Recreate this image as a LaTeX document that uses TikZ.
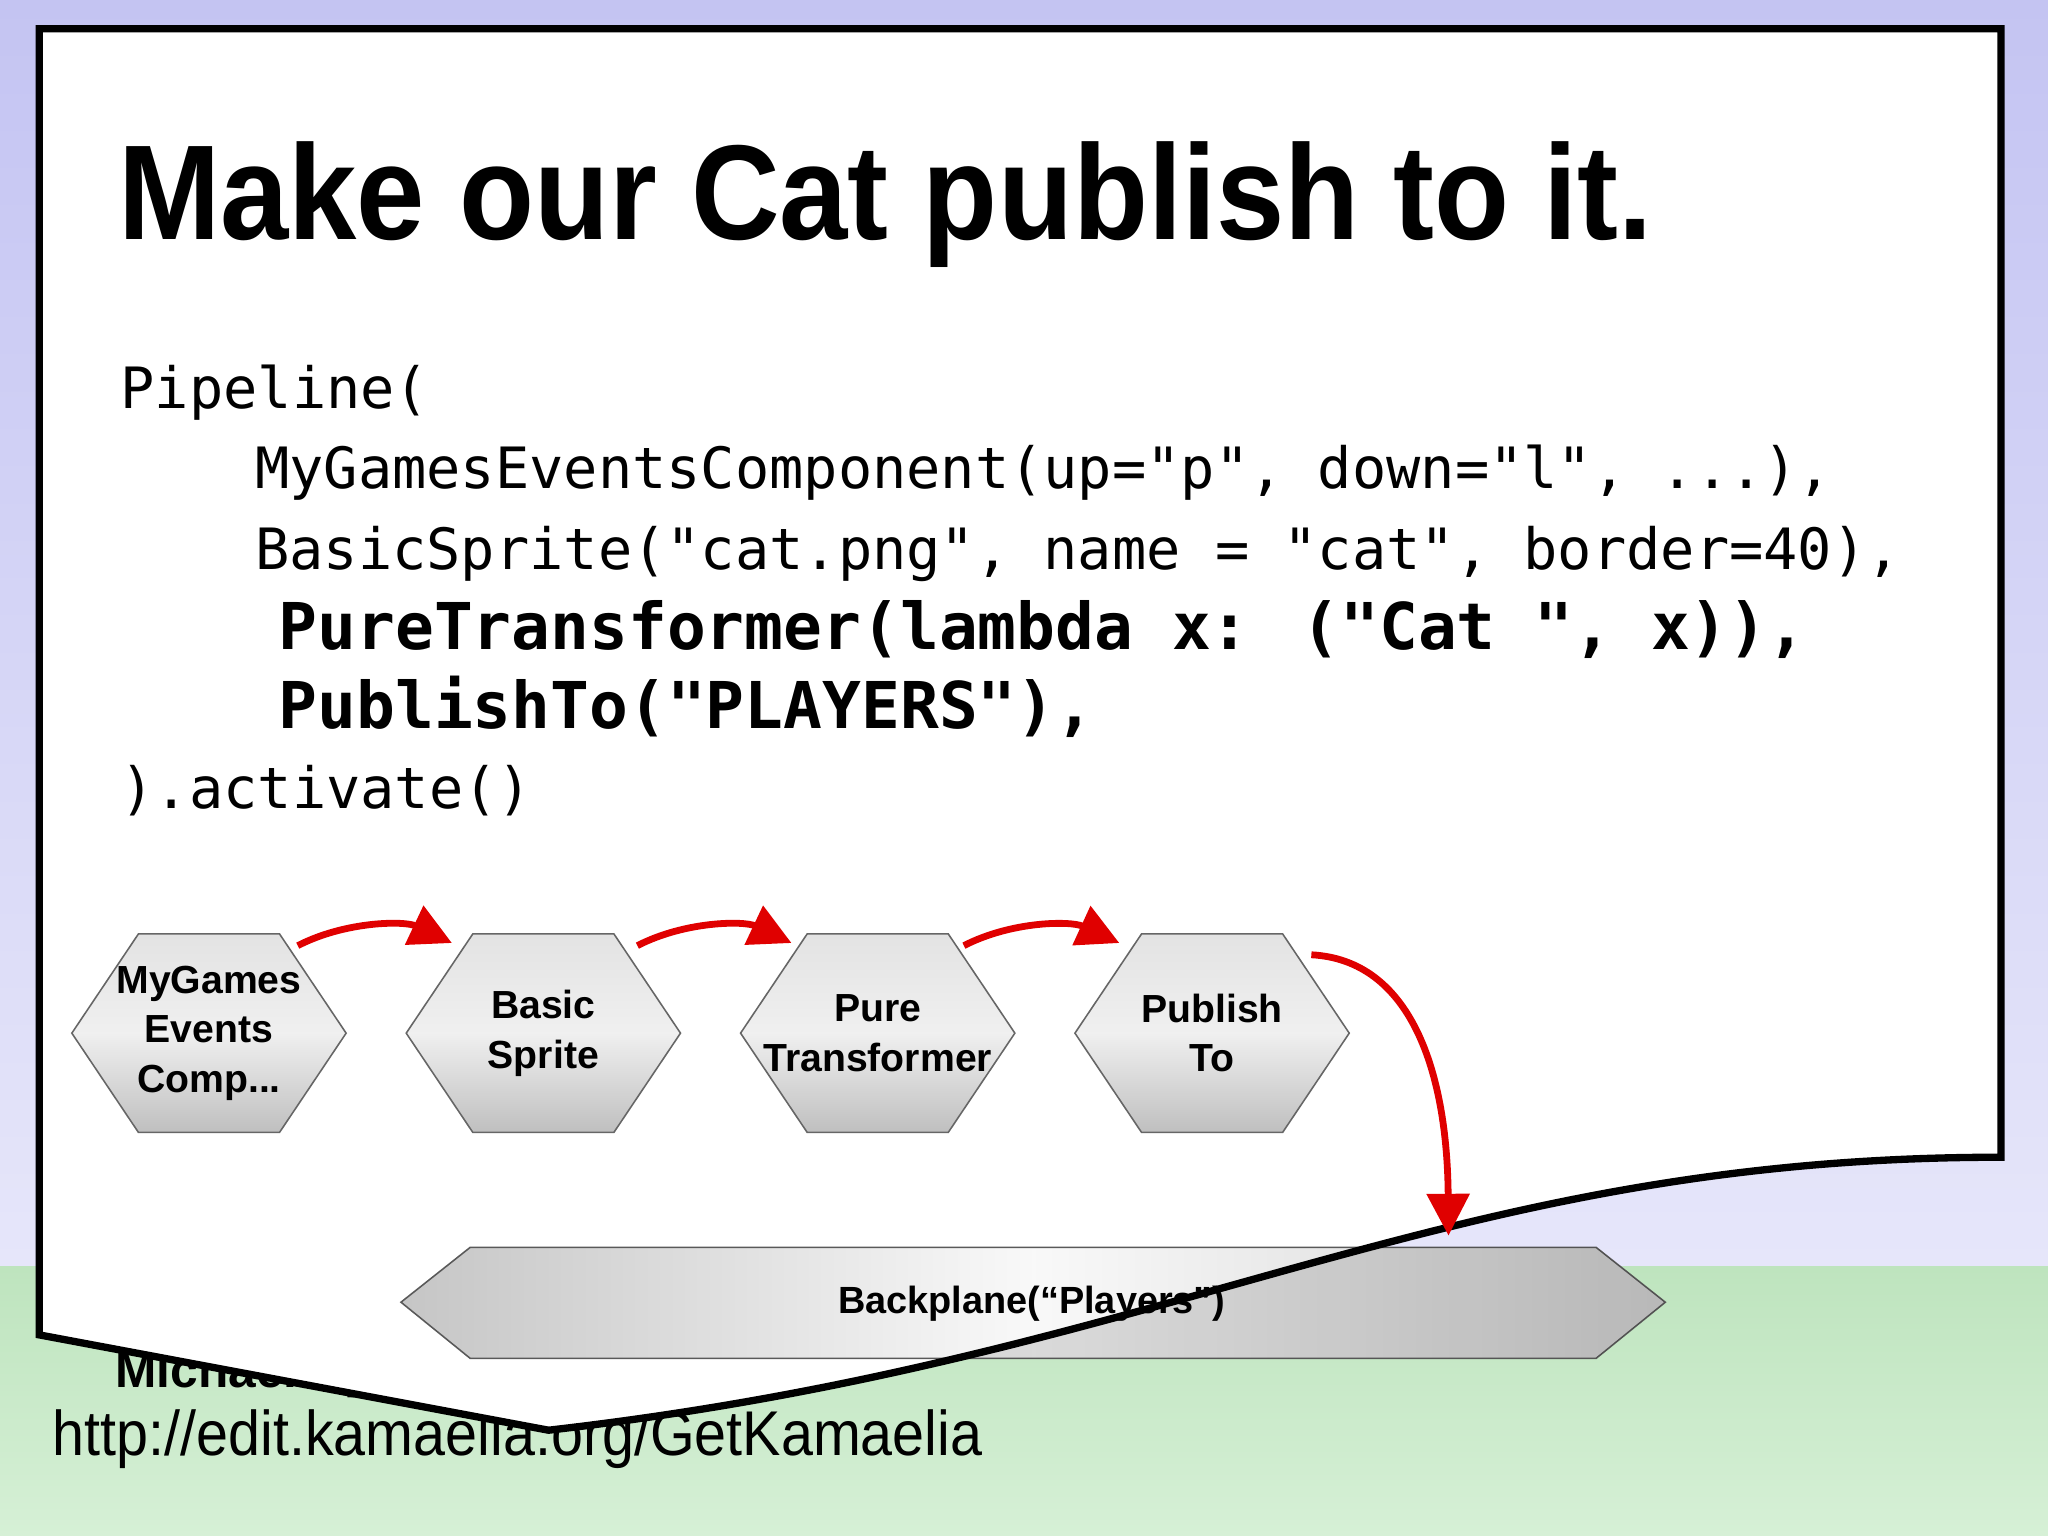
\documentclass[tikz,border=0pt]{standalone}
\usepackage{fontspec}
\setmainfont{Liberation Sans}
\newfontfamily\codefont{DejaVu Sans Mono}
\usetikzlibrary{arrows.meta}
\definecolor{arrred}{HTML}{E00000}
\tikzset{
  hexshape/.style={draw=gray!80!black, line width=0.6pt, top color=gray!22, bottom color=gray!50, middle color=gray!12},
  hexlabel/.style={font=\fontsize{15}{19}\selectfont\bfseries, align=center, inner sep=0pt},
  flow/.style={draw=arrred, line width=2.6pt, -{Triangle[length=16pt,width=16pt]}},
  codeline/.style={anchor=base west, inner sep=0pt, font=\codefont\fontsize{21.8}{24}\selectfont},
  codebold/.style={anchor=base west, inner sep=0pt, font=\codefont\bfseries\fontsize{24.7}{28}\selectfont},
}
\newcommand{\hexat}[1]{\path[hexshape] (#1) ++(-105,0) -- ++(51,-76) -- ++(108,0) -- ++(51,76) -- ++(-51,76) -- ++(-108,0) -- cycle;}
\begin{document}
\begin{tikzpicture}[x=0.5pt,y=-0.5pt]
\useasboundingbox (0,0) rectangle (1568,1176);
% background
\shade[top color={rgb,255:red,196;green,196;blue,242}, bottom color={rgb,255:red,230;green,230;blue,250}] (0,0) rectangle (1568,970);
\shade[top color={rgb,255:red,190;green,228;blue,190}, bottom color={rgb,255:red,214;green,240;blue,214}] (0,970) rectangle (1568,1176);
% hidden author text
\node[anchor=base west, inner sep=0pt, font=\fontsize{19}{22}\selectfont\bfseries] (author) at (88,1062) {Michael Sparks (BBC R\&D)};
\node[anchor=base west, inner sep=0pt, font=\fontsize{22}{24}\selectfont] (url) at (40,1114) {\scalebox{1}[1.1]{http://edit.kamaelia.org/GetKamaelia}};
% page
\fill[white] (30,22) -- (1532,22) -- (1532,886) .. controls (1100,886) and (900,1040) .. (420,1095) -- (30,1022) -- cycle;
% backplane
\path[draw=gray!70!black, line width=0.6pt, left color=gray!45, right color=gray!35, middle color=gray!5] (307,997) -- (360,955) -- (1222,955) -- (1275,997) -- (1222,1040) -- (360,1040) -- cycle;
\begin{scope}
\clip (307,997) -- (360,955) -- (1222,955) -- (1275,997) -- (1222,1040) -- (360,1040) -- cycle;
\fill[black, opacity=0.12] (420,1095) .. controls (900,1040) and (1100,886) .. (1532,886) -- (1568,1176) -- (420,1176) -- cycle;
\end{scope}
\node[font=\fontsize{14.5}{17}\selectfont\bfseries, inner sep=0pt] (bp) at (790,998) {Backplane(“Players”)};
% page border
\draw[black, line width=2.8pt, line join=miter] (30,22) -- (1532,22) -- (1532,886) .. controls (1100,886) and (900,1040) .. (420,1095) -- (30,1022) -- cycle;
% title
\node[anchor=base west, inner sep=0pt, font=\fontsize{47}{50}\selectfont\bfseries] (title) at (90,183) {\scalebox{1}[1.1]{Make our Cat publish to it.}};
% code
\node[codeline] (c1) at (92,313) {Pipeline(};
\node[codeline] (c2) at (195,374) {MyGamesEventsComponent(up="p", down="l", ...),};
\node[codeline] (c3) at (195,436) {BasicSprite("cat.png", name = "cat", border=40),};
\node[codebold] (c4) at (213,497) {PureTransformer(lambda x: ("Cat ", x)),};
\node[codebold] (c5) at (213,558) {PublishTo("PLAYERS"),};
\node[codeline] (c6) at (92,619) {).activate()};
% hexagons
\hexat{160,791}\hexat{416,791}\hexat{672,791}\hexat{928,791}
\node[hexlabel] (h1) at (160,791) {MyGames\\Events\\Comp...};
\node[hexlabel] (h2) at (416,791) {Basic\\Sprite};
\node[hexlabel] (h3) at (672,791) {Pure\\Transformer};
\node[hexlabel] (h4) at (928,791) {Publish\\To};
\coordinate (a1s) at (228,724); \coordinate (a1e) at (346,722);
\coordinate (a2s) at (488,724); \coordinate (a2e) at (606,722);
\coordinate (a3s) at (738,724); \coordinate (a3e) at (857,722);
\coordinate (a4s) at (1004,731); \coordinate (a4e) at (1109,946);
\draw[flow] (a1s) .. controls (265,705) and (310,705) .. (a1e);
\draw[flow] (a2s) .. controls (525,705) and (570,705) .. (a2e);
\draw[flow] (a3s) .. controls (775,705) and (820,705) .. (a3e);
\draw[flow] (a4s) .. controls (1080,735) and (1108,820) .. (a4e);
\end{tikzpicture}
\end{document}
